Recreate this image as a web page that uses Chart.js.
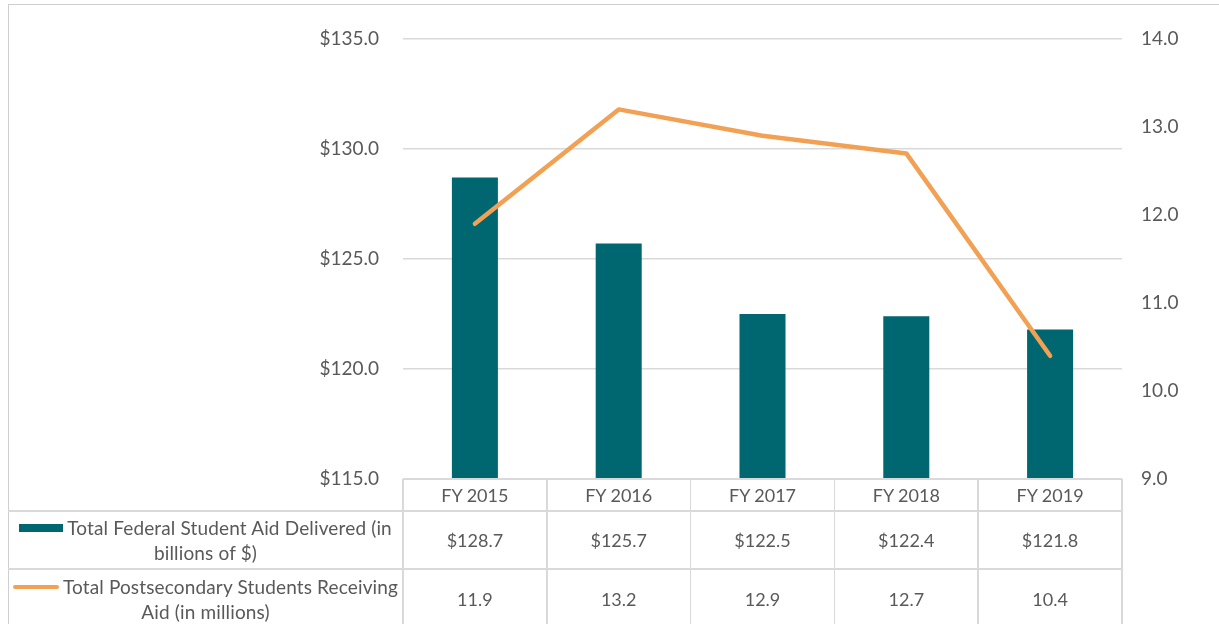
<!DOCTYPE html>
<html>
<head>
<meta charset="utf-8">
<script src="https://cdn.jsdelivr.net/npm/chart.js@4.4.0/dist/chart.umd.min.js"></script>
<style>
    html, body { margin: 0; padding: 0; background: #fff; }
    #wrap {
        position: relative; width: 1219px; height: 624px; overflow: hidden;
        font-family: Lato, "Open Sans", sans-serif; color: #595959;
    }
    #frame {
        position: absolute; left: 8px; top: 4px; width: 1400px; height: 800px;
        border-left: 1.5px solid #cfcfcf; border-top: 1.5px solid #cfcfcf;
    }
    canvas { position: absolute; left: 0; top: 0; }
    .ln { position: absolute; background: #d9d9d9; }
    .cell {
        position: absolute; display: flex; align-items: center; justify-content: center;
        text-align: center; font-size: 18px; line-height: 25px; white-space: nowrap;
    }
    .leg { font-size: 19px; letter-spacing: 0.15px; }
    .key-bar { display: inline-block; width: 44px; height: 8px; background: #006670; margin-right: 4px; vertical-align: 3px; }
    .key-line { display: inline-block; width: 46px; height: 4px; border-radius: 2px; background: #F2A154; margin-right: 4px; vertical-align: 5px; }
</style>
</head>
<body>
<div id="wrap">
    <div id="frame"></div>
    <canvas id="chart" width="1219" height="624"></canvas>
    <div id="tabla"></div>
</div>

<script>
/* ---------- datos ---------- */
const years = ["FY 2015", "FY 2016", "FY 2017", "FY 2018", "FY 2019"];
const aidBillions = [128.7, 125.7, 122.5, 122.4, 121.8];
const studentsMillions = [11.9, 13.2, 12.9, 12.7, 10.4];
const aidLabel = "Total Federal Student Aid Delivered (in billions of $)";
const studentsLabel = "Total Postsecondary Students Receiving Aid (in millions)";

const TEAL = "#006670";
const ORANGE = "#F2A154";
const GRID = "#d9d9d9";
const TXT = "#595959";

const fontTick = { family: "Lato, 'Open Sans', sans-serif", size: 19 };

/* ---------- gráfico ---------- */
const chart = new Chart(document.getElementById("chart"), {
    type: "bar",
    data: {
        labels: years,
        datasets: [
            {
                type: "line",
                label: studentsLabel,
                data: studentsMillions,
                yAxisID: "y1",
                borderColor: ORANGE,
                backgroundColor: ORANGE,
                borderWidth: 4.5,
                borderCapStyle: "round",
                borderJoinStyle: "round",
                pointRadius: 0,
                tension: 0,
                order: 1
            },
            {
                type: "bar",
                label: aidLabel,
                data: aidBillions,
                yAxisID: "y",
                backgroundColor: TEAL,
                borderWidth: 0,
                categoryPercentage: 1,
                barPercentage: 0.32,
                order: 2
            }
        ]
    },
    options: {
        responsive: false,
        animation: false,
        layout: { padding: { top: 39, bottom: 145, left: 0, right: 0 } },
        plugins: { legend: { display: false }, tooltip: { enabled: false } },
        scales: {
            x: {
                display: false,
                offset: true,
                grid: { display: false }
            },
            y: {
                position: "left",
                min: 115,
                max: 135,
                ticks: {
                    stepSize: 5,
                    color: TXT,
                    font: fontTick,
                    padding: 24,
                    callback: v => "$" + Number(v).toFixed(1)
                },
                grid: { color: GRID, lineWidth: 1.5, drawTicks: false },
                border: { display: false },
                afterFit: s => { s.width = 403; }
            },
            y1: {
                position: "right",
                min: 9,
                max: 14,
                ticks: {
                    stepSize: 1,
                    color: TXT,
                    font: fontTick,
                    padding: 19,
                    callback: v => Number(v).toFixed(1)
                },
                grid: { display: false, drawTicks: false },
                border: { display: false },
                afterFit: s => { s.width = 97; }
            }
        }
    }
});

/* ---------- tabla de datos (debajo del eje X) ---------- */
function buildTabla(chart) {
    const cont = document.getElementById("tabla");
    cont.innerHTML = "";

    const area = chart.chartArea;
    const xs = chart.scales.x;
    const colW = (area.right - area.left) / years.length;
    const frameLeft = 8;
    const top = area.bottom;
    const rowH = [32, 58, 60];
    const rowY = [top, top + rowH[0], top + rowH[0] + rowH[1]];
    const bottom = rowY[2] + rowH[2];

    const addLine = (x, y, w, h) => {
        const d = document.createElement("div");
        d.className = "ln";
        d.style.left = x + "px"; d.style.top = y + "px";
        d.style.width = w + "px"; d.style.height = h + "px";
        cont.appendChild(d);
    };
    const addCell = (x, y, w, h, html, cls) => {
        const d = document.createElement("div");
        d.className = "cell" + (cls ? " " + cls : "");
        d.style.left = x + "px"; d.style.top = y + "px";
        d.style.width = w + "px"; d.style.height = h + "px";
        d.innerHTML = html;
        cont.appendChild(d);
    };

    // horizontales
    addLine(area.left, rowY[0] - 0.75, area.right - area.left, 1.5);
    addLine(frameLeft, rowY[1] - 0.75, area.right - frameLeft, 1.5);
    addLine(frameLeft, rowY[2] - 0.75, area.right - frameLeft, 1.5);

    // verticales
    for (let i = 0; i <= years.length; i++) {
        addLine(area.left + i * colW - 0.75, rowY[0], 1.5, bottom - rowY[0]);
    }

    // celdas
    years.forEach((yr, i) => {
        const cx = xs.getPixelForValue(i);
        const x0 = cx - colW / 2;
        addCell(x0, rowY[0], colW, rowH[0], yr);
        addCell(x0, rowY[1], colW, rowH[1], "$" + aidBillions[i].toFixed(1));
        addCell(x0, rowY[2], colW, rowH[2], studentsMillions[i].toFixed(1));
    });

    // leyenda en la tabla
    const legW = area.left - frameLeft;
    addCell(frameLeft, rowY[1], legW, rowH[1],
        '<div><span class="key-bar"></span>Total Federal Student Aid Delivered (in<br>billions of $)</div>', "leg");
    addCell(frameLeft, rowY[2], legW, rowH[2],
        '<div><span class="key-line"></span>Total Postsecondary Students Receiving<br>Aid (in millions)</div>', "leg");
}

buildTabla(chart);
</script>
</body>
</html>
